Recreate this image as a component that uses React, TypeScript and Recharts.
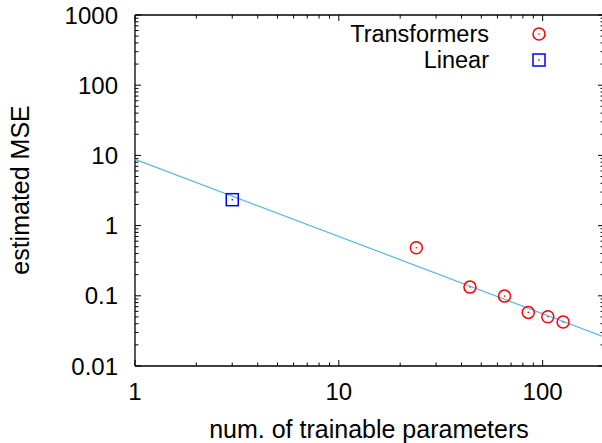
import { ScatterChart, Scatter, XAxis, YAxis } from 'recharts'

// transformer runs: params vs estimated MSE
const transformerParams = [24, 44, 65, 85, 106, 126]
const transformerMse = [0.484, 0.133, 0.099, 0.058, 0.0504, 0.0424]

const linearParams = [3]
const linearMse = [2.34]

// fitted power-law line, endpoints read at the plot edges
const fitParams = [1, 200]
const fitMse = [8.8, 0.026]

const xMajor = [1, 10, 100]
const xMinor = [2, 3, 4, 5, 6, 7, 8, 9, 20, 30, 40, 50, 60, 70, 80, 90]
const yMajor = [0.01, 0.1, 1, 10, 100, 1000]
const minorSteps = [2, 3, 4, 5, 6, 7, 8, 9]
const yMinor = [0.01, 0.1, 1, 10, 100].flatMap((d) => minorSteps.map((m) => +(d * m).toPrecision(3)))

const transformers = transformerParams.map((p, i) => ({ x: p, y: transformerMse[i] }))
const linear = linearParams.map((p, i) => ({ x: p, y: linearMse[i] }))
const fit = fitParams.map((p, i) => ({ x: p, y: fitMse[i] }))

const FONT = '"Liberation Sans", Arial, Helvetica, sans-serif'
const FS = 25
const TICK_FS = 24
const LEGEND_FS = 23.5
const MAJOR = 6
const MINOR = 3.5

const BottomTick = (props: any) => {
  const { x, y, payload } = props
  const major = xMajor.includes(payload.value)
  return (
    <g>
      <line x1={x} x2={x} y1={y} y2={y - (major ? MAJOR : MINOR)} stroke="#000" strokeWidth={1} />
      {major && (
        <text x={x} y={y + 34} textAnchor="middle" fontFamily={FONT} fontSize={TICK_FS} fill="#000">
          {payload.value}
        </text>
      )}
    </g>
  )
}

const TopTick = (props: any) => {
  const { x, y, payload } = props
  const major = xMajor.includes(payload.value)
  return <line x1={x} x2={x} y1={y} y2={y + (major ? MAJOR : MINOR)} stroke="#000" strokeWidth={1} />
}

const LeftTick = (props: any) => {
  const { x, y, payload } = props
  const major = yMajor.includes(payload.value)
  return (
    <g>
      <line x1={x} x2={x + (major ? MAJOR : MINOR)} y1={y} y2={y} stroke="#000" strokeWidth={1} />
      {major && (
        <text x={x - 17} y={y + 8.5} textAnchor="end" fontFamily={FONT} fontSize={TICK_FS} fill="#000">
          {payload.value}
        </text>
      )}
    </g>
  )
}

const RightTick = (props: any) => {
  const { x, y, payload } = props
  const major = yMajor.includes(payload.value)
  return <line x1={x} x2={x - (major ? MAJOR : MINOR)} y1={y} y2={y} stroke="#000" strokeWidth={1} />
}

const CircleDot = (props: any) => {
  const { cx, cy } = props
  return (
    <g>
      <circle cx={cx} cy={cy} r={6} fill="none" stroke="#ff0000" strokeWidth={1.5} />
      <circle cx={cx} cy={cy} r={0.8} fill="#ff0000" />
    </g>
  )
}

const SquareDot = (props: any) => {
  const { cx, cy } = props
  return (
    <g>
      <rect x={cx - 6} y={cy - 6} width={12} height={12} fill="none" stroke="#0000ff" strokeWidth={1.5} />
      <circle cx={cx} cy={cy} r={0.8} fill="#0000ff" />
    </g>
  )
}

const NoDot = () => <g />

export default function App() {
  const axisLine = { stroke: '#000', strokeWidth: 1.3 }
  return (
    <div style={{ position: 'absolute', left: 0, top: 0, width: 602, height: 443, overflow: 'hidden', background: '#fff' }}>
      <ScatterChart width={614} height={443} margin={{ top: 5, right: 0, bottom: 47, left: 105 }}>
        <XAxis
          xAxisId="bottom"
          dataKey="x"
          type="number"
          scale="log"
          domain={[1, 200]}
          ticks={[...xMajor, ...xMinor]}
          interval={0}
          height={30}
          tickSize={0}
          tickMargin={0}
          tickLine={false}
          axisLine={axisLine}
          tick={<BottomTick />}
          allowDataOverflow
        />
        <XAxis
          xAxisId="top"
          orientation="top"
          dataKey="x"
          type="number"
          scale="log"
          domain={[1, 200]}
          ticks={[...xMajor, ...xMinor]}
          interval={0}
          height={10}
          tickSize={0}
          tickMargin={0}
          tickLine={false}
          axisLine={axisLine}
          tick={<TopTick />}
          allowDataOverflow
        />
        <YAxis
          yAxisId="left"
          dataKey="y"
          type="number"
          scale="log"
          domain={[0.01, 1000]}
          ticks={[...yMajor, ...yMinor]}
          interval={0}
          width={30}
          tickSize={0}
          tickMargin={0}
          tickLine={false}
          axisLine={axisLine}
          tick={<LeftTick />}
          allowDataOverflow
        />
        <YAxis
          yAxisId="right"
          orientation="right"
          dataKey="y"
          type="number"
          scale="log"
          domain={[0.01, 1000]}
          ticks={[...yMajor, ...yMinor]}
          interval={0}
          width={10}
          tickSize={0}
          tickMargin={0}
          tickLine={false}
          axisLine={axisLine}
          tick={<RightTick />}
          allowDataOverflow
        />
        <Scatter
          xAxisId="top"
          yAxisId="right"
          data={fit}
          line={{ stroke: '#56b4e9', strokeWidth: 1.2 }}
          shape={<NoDot />}
          isAnimationActive={false}
        />
        <Scatter xAxisId="bottom" yAxisId="left" data={transformers} shape={<CircleDot />} isAnimationActive={false} />
        <Scatter xAxisId="bottom" yAxisId="left" data={linear} shape={<SquareDot />} isAnimationActive={false} />
        <g fontFamily={FONT} fontSize={FS} fill="#000">
          <text x={489} y={42} fontSize={LEGEND_FS} textAnchor="end">Transformers</text>
          <text x={489} y={68} fontSize={LEGEND_FS} textAnchor="end">Linear</text>
          <text x={369} y={438} textAnchor="middle">num. of trainable parameters</text>
          <text x={29} y={190} textAnchor="middle" transform="rotate(-90 29 190)">estimated MSE</text>
        </g>
        <CircleDot cx={539} cy={34} />
        <SquareDot cx={539} cy={60} />
      </ScatterChart>
    </div>
  )
}
